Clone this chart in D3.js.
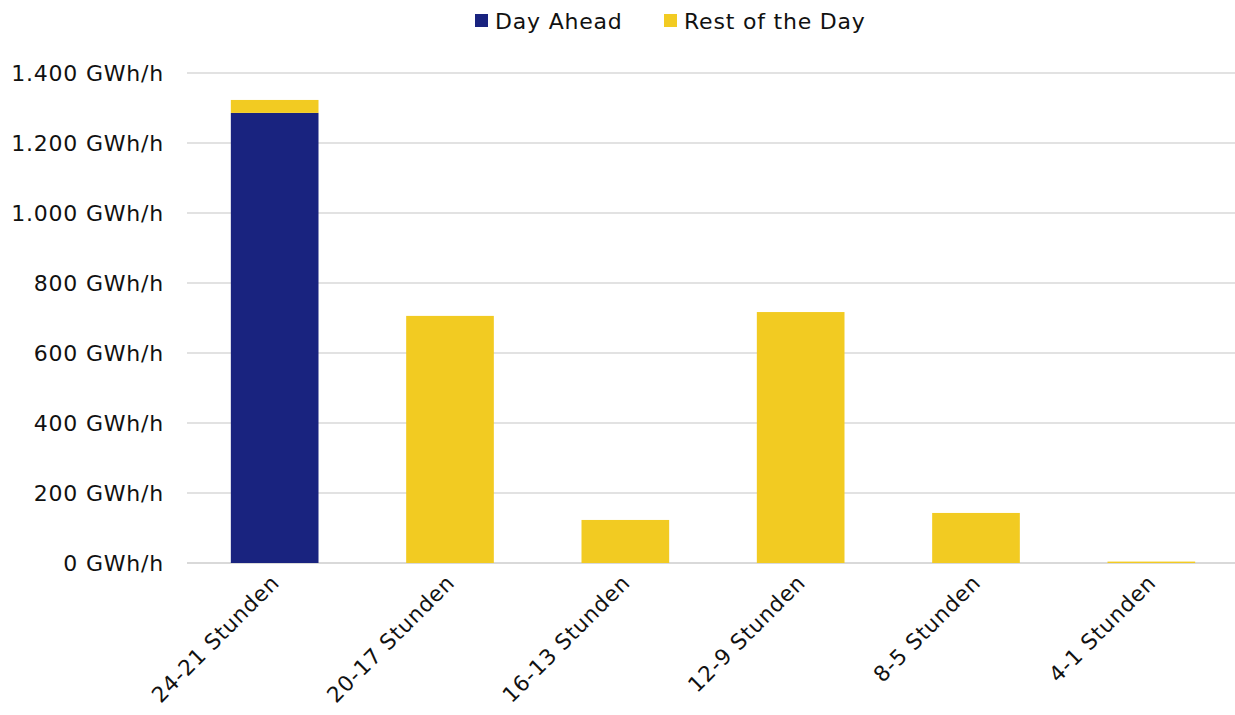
<!DOCTYPE html>
<html>
<head>
<meta charset="utf-8">
<script src="https://cdn.jsdelivr.net/npm/d3@7"></script>
<style>
  body { margin: 0; background: #fff; }
  text { font-family: "DejaVu Sans", "Liberation Sans", Arial, sans-serif; fill: #111; letter-spacing: 0.8px; }
</style>
</head>
<body>
<svg id="chart" width="1235" height="715"></svg>
<script>
const categories = ["24-21 Stunden", "20-17 Stunden", "16-13 Stunden", "12-9 Stunden", "8-5 Stunden", "4-1 Stunden"]
const dayAhead = [1286, 0, 0, 0, 0, 0]
const restOfDay = [37, 706, 123, 717, 143, 4]
const yTicks = [0, 200, 400, 600, 800, 1000, 1200, 1400]
const seriesNames = ["Day Ahead", "Rest of the Day"]
const colors = ["#19237f", "#f2cb22"]

const svg = d3.select("#chart")
const margin = {left: 187, right: -4, top: 73, bottom: 152}
const w = 1235, h = 715
const fs = "22px"

const x = d3.scaleBand()
  .domain(categories)
  .range([margin.left, w - margin.right])
  .paddingInner(0.5)
  .paddingOuter(0.25)

const y = d3.scaleLinear()
  .domain([0, 1400])
  .range([h - margin.bottom, margin.top])

const fmt = d => d3.format(",")(d).replace(/,/g, ".") + " GWh/h"

// grid
svg.append("g")
  .selectAll("line")
  .data(yTicks)
  .join("line")
  .attr("x1", margin.left)
  .attr("x2", w)
  .attr("y1", d => y(d))
  .attr("y2", d => y(d))
  .attr("stroke", "#d9d9d9")
  .attr("stroke-width", d => d === 0 ? 2 : 1.3)

svg.append("g")
  .selectAll("text")
  .data(yTicks)
  .join("text")
  .attr("x", 164)
  .attr("y", d => y(d))
  .attr("dy", "0.35em")
  .style("text-anchor", "end")
  .style("font-size", fs)
  .text(fmt)

// stacked bars
const rows = categories.map((c, i) => ({cat: c, "Day Ahead": dayAhead[i], "Rest of the Day": restOfDay[i]}))
const stack = d3.stack().keys(seriesNames)(rows)

svg.append("g")
  .selectAll("g")
  .data(stack)
  .join("g")
  .attr("fill", (d, i) => colors[i])
  .selectAll("rect")
  .data(d => d)
  .join("rect")
  .attr("x", d => x(d.data.cat))
  .attr("width", x.bandwidth())
  .attr("y", d => y(d[1]))
  .attr("height", d => y(d[0]) - y(d[1]))

// x labels
svg.append("g")
  .selectAll("text")
  .data(categories)
  .join("text")
  .attr("transform", d => `translate(${x(d) + x.bandwidth() / 2 + 6},${h - margin.bottom + 21}) rotate(-45)`)
  .style("text-anchor", "end")
  .style("font-size", "21.5px")
  .text(d => d)

// legend
const legend = svg.append("g")
const lx = [475, 664]
seriesNames.forEach((s, i) => {
  legend.append("rect")
    .attr("x", lx[i])
    .attr("y", 14)
    .attr("width", 13)
    .attr("height", 13)
    .attr("fill", colors[i])
  legend.append("text")
    .attr("x", lx[i] + 20)
    .attr("y", 21)
    .attr("dy", "0.35em")
    .style("font-size", fs)
    .text(s)
})
</script>
</body>
</html>
